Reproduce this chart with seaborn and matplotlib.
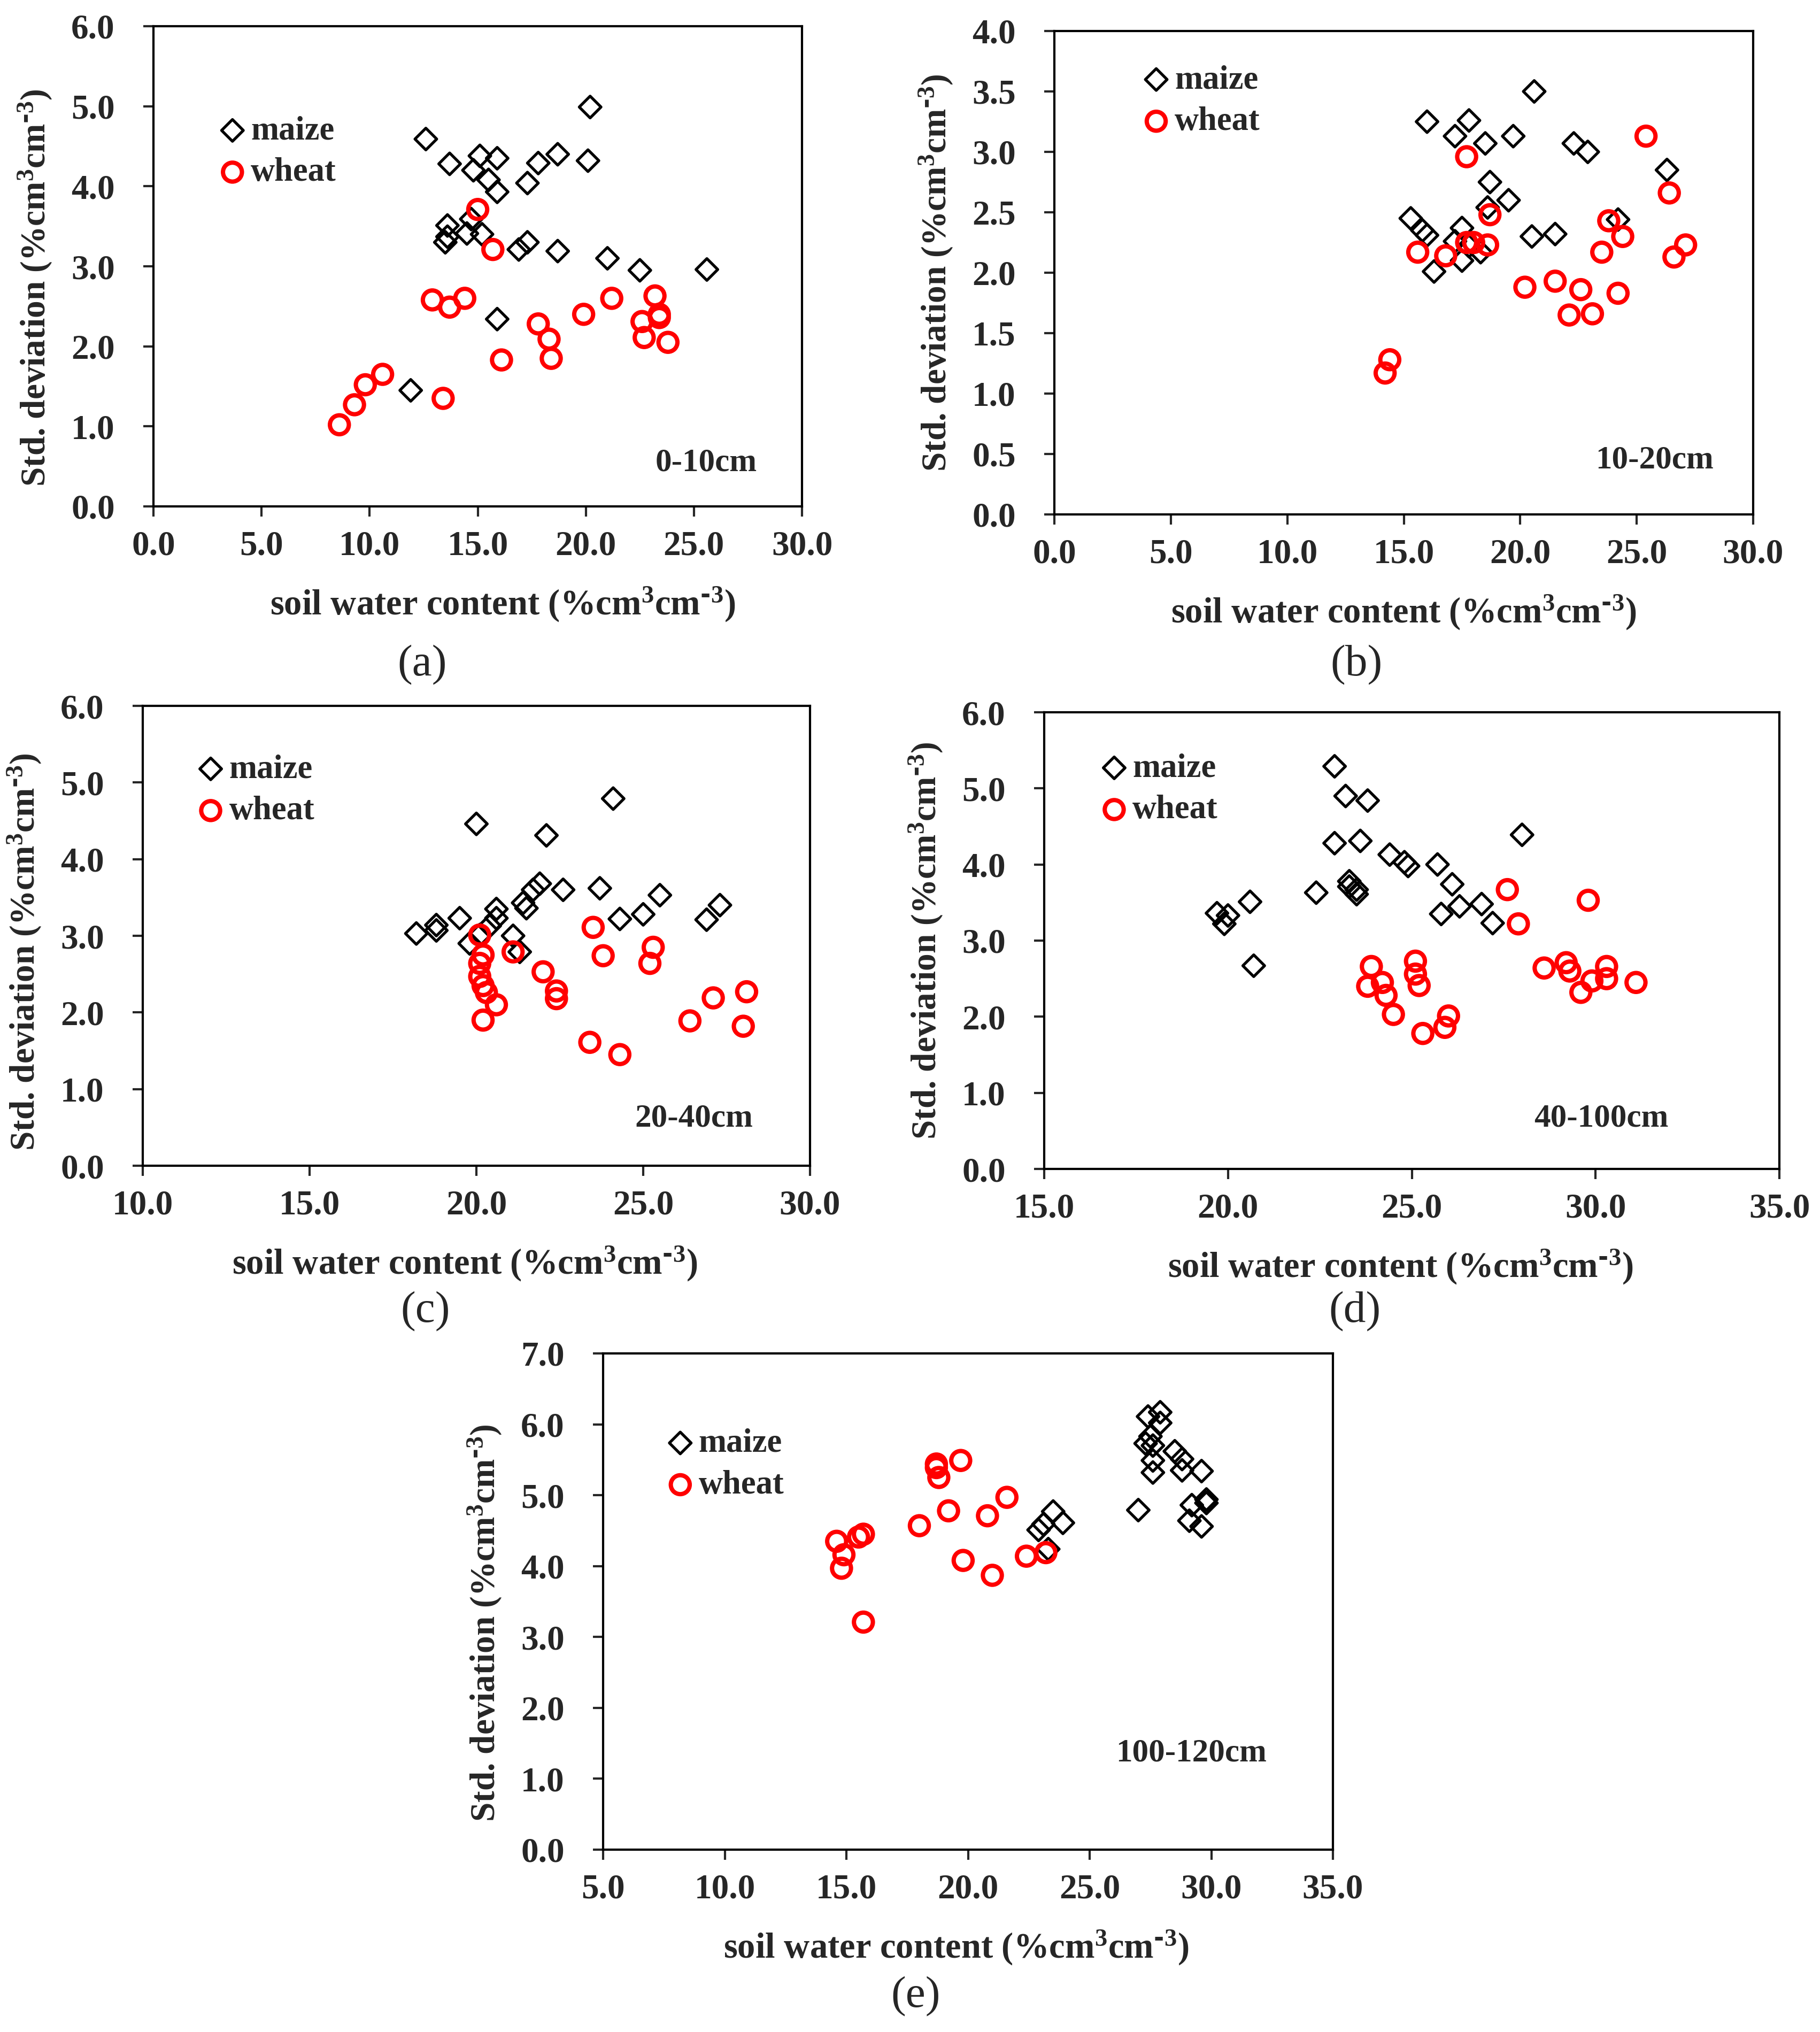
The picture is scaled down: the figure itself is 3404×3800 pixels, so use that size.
import numpy as np
import pandas as pd
import matplotlib
matplotlib.use("Agg")
import matplotlib.pyplot as plt
import seaborn as sns

# ---- data: soil water content vs std. deviation ----
a_maize_swc = [12.6, 13.7, 15.1, 14.8, 15.5, 15.9, 15.9, 17.3, 17.8, 18.7, 20.1, 20.2, 13.6,
               13.6, 13.5, 14.5, 14.7, 15.2, 16.9, 17.3, 18.7, 21.0, 22.5, 25.6, 15.9, 11.9]
a_maize_sd = [4.59, 4.28, 4.38, 4.20, 4.08, 4.35, 3.93, 4.04, 4.29, 4.40, 4.32, 4.99, 3.51,
              3.37, 3.30, 3.41, 3.59, 3.40, 3.21, 3.30, 3.19, 3.10, 2.95, 2.96, 2.34, 1.45]
a_wheat_swc = [8.6, 9.3, 9.8, 10.6, 13.4, 12.9, 13.7, 14.4, 15.0, 15.7, 16.1, 17.8, 18.3,
               18.4, 19.9, 21.2, 22.6, 22.7, 23.2, 23.4, 23.4, 23.8]
a_wheat_sd = [1.02, 1.27, 1.52, 1.65, 1.35, 2.58, 2.49, 2.60, 3.71, 3.21, 1.83, 2.28, 2.09,
              1.85, 2.40, 2.60, 2.31, 2.11, 2.63, 2.40, 2.36, 2.05]

b_maize_swc = [16.0, 17.2, 17.8, 18.5, 19.7, 20.6, 22.3, 22.9, 26.3, 18.7, 19.5, 18.6, 15.3,
               15.8, 16.0, 16.3, 17.5, 17.2, 17.5, 18.3, 20.5, 21.5, 24.2, 17.8]
b_maize_sd = [3.25, 3.13, 3.26, 3.07, 3.13, 3.50, 3.07, 3.00, 2.85, 2.75, 2.60, 2.54, 2.45,
              2.35, 2.31, 2.01, 2.37, 2.26, 2.10, 2.17, 2.30, 2.32, 2.44, 2.22]
b_wheat_swc = [14.2, 14.4, 15.6, 16.8, 17.7, 17.7, 18.0, 18.6, 18.7, 20.2, 21.5, 22.1, 22.6,
               23.1, 23.5, 23.8, 24.4, 24.2, 25.4, 26.4, 26.6, 27.1]
b_wheat_sd = [1.17, 1.28, 2.17, 2.14, 2.96, 2.25, 2.25, 2.23, 2.48, 1.88, 1.93, 1.65, 1.86,
              1.66, 2.17, 2.43, 2.30, 1.83, 3.13, 2.66, 2.13, 2.23]

c_maize_swc = [18.2, 18.8, 18.8, 19.5, 19.8, 20.0, 20.1, 20.4, 20.6, 20.6, 21.1, 21.3, 21.4,
               21.5, 21.7, 21.9, 22.1, 22.6, 23.7, 24.1, 24.3, 25.0, 25.5, 26.9, 27.3]
c_maize_sd = [3.03, 3.14, 3.07, 3.23, 2.90, 4.46, 3.01, 3.13, 3.35, 3.23, 3.00, 2.79, 3.43,
              3.36, 3.60, 3.68, 4.31, 3.60, 3.62, 4.79, 3.22, 3.28, 3.53, 3.21, 3.40]
c_wheat_swc = [20.1, 20.1, 20.2, 20.1, 20.2, 20.3, 20.2, 20.6, 21.1, 22.0, 22.4, 22.4, 23.4,
               23.5, 23.8, 24.3, 25.2, 25.3, 26.4, 27.1, 28.0, 28.1]
c_wheat_sd = [3.01, 2.64, 2.75, 2.47, 2.35, 2.26, 1.90, 2.10, 2.79, 2.53, 2.28, 2.18, 1.61,
              3.11, 2.74, 1.45, 2.64, 2.85, 1.89, 2.19, 1.82, 2.27]

d_maize_swc = [19.7, 19.9, 20.0, 20.6, 20.7, 22.4, 22.9, 22.9, 23.2, 23.3, 23.3, 23.5, 23.5,
               23.6, 23.8, 24.4, 24.8, 24.9, 25.7, 25.8, 26.1, 26.3, 26.9, 27.2, 28.0]
d_maize_sd = [3.36, 3.22, 3.33, 3.51, 2.67, 3.63, 5.29, 4.28, 4.90, 3.78, 3.71, 3.67, 3.61,
              4.31, 4.84, 4.13, 4.03, 3.98, 4.00, 3.35, 3.74, 3.45, 3.48, 3.23, 4.39]
d_wheat_swc = [23.8, 23.9, 24.2, 24.3, 24.5, 25.1, 25.1, 25.2, 25.3, 25.9, 26.0, 27.6, 27.9,
               28.6, 29.2, 29.3, 29.6, 29.8, 29.9, 30.3, 30.3, 31.1]
d_wheat_sd = [2.40, 2.66, 2.45, 2.28, 2.03, 2.73, 2.56, 2.41, 1.78, 1.86, 2.01, 3.67, 3.22,
              2.64, 2.71, 2.60, 2.32, 3.53, 2.47, 2.66, 2.50, 2.45]

e_maize_swc = [22.9, 23.1, 23.3, 23.5, 23.9, 27.0, 27.3, 27.4, 27.5, 27.6, 27.6, 27.6, 27.9,
               27.9, 28.5, 28.8, 28.8, 29.2, 29.1, 29.6, 29.6, 29.8, 29.8]
e_maize_sd = [4.51, 4.59, 4.24, 4.77, 4.61, 4.79, 5.73, 6.11, 5.83, 5.70, 5.49, 5.32, 6.17,
              6.02, 5.62, 5.51, 5.35, 4.86, 4.64, 5.34, 4.56, 4.89, 4.94]
e_wheat_swc = [14.6, 14.9, 14.8, 15.7, 15.5, 15.7, 18.0, 18.7, 18.7, 18.8, 19.7, 19.2, 19.8,
               20.8, 21.0, 21.6, 22.4, 23.2]
e_wheat_sd = [4.35, 4.16, 3.97, 3.21, 4.41, 4.45, 4.57, 5.39, 5.44, 5.25, 5.49, 4.78, 4.08,
              4.71, 3.87, 4.97, 4.14, 4.19]

depths = ["0-10cm", "10-20cm", "20-40cm", "40-100cm", "100-120cm"]
letters = ["(a)", "(b)", "(c)", "(d)", "(e)"]
x_ranges = [(0, 30), (0, 30), (10, 30), (15, 35), (5, 35)]
y_ranges = [(0, 6), (0, 4), (0, 6), (0, 6), (0, 7)]
y_steps = [1.0, 0.5, 1.0, 1.0, 1.0]

sns.set_theme(style="ticks")
plt.rcParams["font.family"] = ["Liberation Serif", "DejaVu Serif"]
plt.rcParams["font.weight"] = "bold"
plt.rcParams["mathtext.default"] = "regular"
plt.rcParams["axes.linewidth"] = 3.0

W, H = 3404, 3800
fig = plt.figure(figsize=(W / 100, H / 100), dpi=100)

# axes boxes in pixels: left, top, right, bottom
boxes = [(287, 49, 1500, 947), (1972, 58, 3279, 962), (267, 1320, 1515, 2180),
         (1953, 1332, 3328, 2186), (1128, 2531, 2493, 3459)]
legend_pos = [(0.121, 0.738), (0.145, 0.855), (0.101, 0.816), (0.0945, 0.831), (0.105, 0.776)]
depth_pos = [(0.852, 0.091), (0.859, 0.112), (0.826, 0.103), (0.758, 0.111), (0.806, 0.195)]
xlabel_dx = [47, 0, -22, -21, -22]
ylabel_dy = [-40, 0, -30, 0, -40]
letter_pos = [(790, 1244), (2537, 1244), (796, 2453), (2534, 2453), (1713, 3734)]

xlab = "soil water content (%cm$^{3}$cm$^{\\text{-}3}$)"
ylab = "Std. deviation (%cm$^{3}$cm$^{\\text{-}3}$)"

panels = [
    (a_maize_swc, a_maize_sd, a_wheat_swc, a_wheat_sd),
    (b_maize_swc, b_maize_sd, b_wheat_swc, b_wheat_sd),
    (c_maize_swc, c_maize_sd, c_wheat_swc, c_wheat_sd),
    (d_maize_swc, d_maize_sd, d_wheat_swc, d_wheat_sd),
    (e_maize_swc, e_maize_sd, e_wheat_swc, e_wheat_sd),
]

for i, (mx, my, wx, wy) in enumerate(panels):
    l, t, r, b = boxes[i]
    ax = fig.add_axes([l / W, 1 - b / H, (r - l) / W, (b - t) / H])
    sns.scatterplot(x=mx, y=my, ax=ax, marker="D", s=430, color="black",
                    facecolors="none", edgecolor="black", linewidth=3.8, label="maize")
    sns.scatterplot(x=wx, y=wy, ax=ax, marker="o", s=650, color="red",
                    facecolors="none", edgecolor="red", linewidth=5.8, label="wheat")

    x0, x1 = x_ranges[i]
    y0, y1 = y_ranges[i]
    ax.set_xlim(x0, x1)
    ax.set_ylim(y0, y1)
    ax.set_xticks(np.arange(x0, x1 + 0.01, 5))
    ax.set_yticks(np.arange(y0, y1 + 0.01, y_steps[i]))
    ax.xaxis.set_major_formatter(matplotlib.ticker.FormatStrFormatter("%.1f"))
    ax.yaxis.set_major_formatter(matplotlib.ticker.FormatStrFormatter("%.1f"))
    ax.tick_params(axis="both", direction="out", length=14, width=3.0, labelsize=47)
    ax.tick_params(axis="x", pad=18)
    ax.tick_params(axis="y", pad=38)
    for s in ax.spines.values():
        s.set_visible(True)
        s.set_linewidth(3.0)
        s.set_color("black")

    w_px, h_px = r - l, b - t
    ax.set_xlabel(xlab, fontsize=48, fontweight="bold")
    ax.set_ylabel(ylab, fontsize=47, fontweight="bold")
    ax.xaxis.set_label_coords(0.5 + xlabel_dx[i] / w_px, -148 / h_px)
    ax.yaxis.set_label_coords(-186 / w_px, 0.5 + ylabel_dy[i] / h_px)

    lx, ly = legend_pos[i]
    ax.legend(loc="center left", bbox_to_anchor=(lx - 24 / w_px, ly), frameon=False,
              borderpad=0, borderaxespad=0, handlelength=0.8, handletextpad=0.15,
              labelspacing=0.32, prop={"size": 45, "weight": "bold"})

    dx, dy = depth_pos[i]
    ax.text(dx, dy, depths[i], transform=ax.transAxes, ha="center", va="center",
            fontsize=44, fontweight="bold")

    px, py = letter_pos[i]
    fig.text(px / W, 1 - py / H, letters[i], ha="center", va="center",
             fontsize=60, fontweight="normal")

fig.savefig("out.png", dpi=100, facecolor="white")
